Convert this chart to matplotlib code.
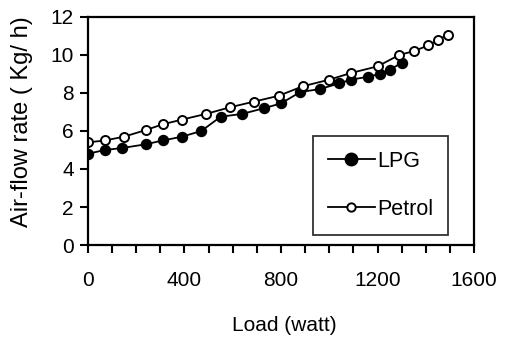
import matplotlib
matplotlib.use("Agg")
import matplotlib.pyplot as plt
from matplotlib.ticker import MultipleLocator

plt.rcParams['font.family'] = ['Liberation Sans', 'DejaVu Sans']

# LPG
lpg_load = [0, 70, 140, 240, 310, 390, 470, 550, 640, 730, 800,
            880, 960, 1040, 1090, 1160, 1210, 1250, 1300]
lpg_air = [4.8, 5.0, 5.1, 5.3, 5.5, 5.7, 6.0, 6.75, 6.9, 7.2, 7.45,
           8.05, 8.2, 8.5, 8.7, 8.85, 9.0, 9.2, 9.6]

# Petrol
petrol_load = [0, 70, 150, 240, 310, 390, 490, 590, 690, 790,
               890, 1000, 1090, 1200, 1290, 1350, 1410, 1450, 1490]
petrol_air = [5.4, 5.5, 5.7, 6.05, 6.35, 6.6, 6.9, 7.25, 7.55, 7.85,
              8.35, 8.7, 9.05, 9.4, 10.0, 10.2, 10.5, 10.8, 11.05]

fig = plt.figure(figsize=(5.05, 3.38), dpi=100)
ax = fig.add_axes([0.174, 0.275, 0.765, 0.675])

ax.plot(lpg_load, lpg_air, '-o', color='black', markerfacecolor='black',
        markersize=7.2, linewidth=1.3, label='LPG')
ax.plot(petrol_load, petrol_air, '-o', color='black', markerfacecolor='white',
        markeredgewidth=1.4, markersize=6.5, linewidth=1.3, label='Petrol')

ax.set_xlim(0, 1600)
ax.set_ylim(0, 12)
ax.xaxis.set_major_locator(MultipleLocator(400))
ax.xaxis.set_minor_locator(MultipleLocator(100))
ax.yaxis.set_major_locator(MultipleLocator(2))
ax.tick_params(which='both', direction='out', width=1.5, length=6, labelsize=15)
ax.tick_params(axis='x', pad=13)
ax.tick_params(axis='y', pad=4)
for s in ax.spines.values():
    s.set_linewidth(1.6)

ax.set_xlabel('Load (watt)', fontsize=15, va='top')
ax.set_ylabel('Air-flow rate ( Kg/ h)', fontsize=17)
ax.xaxis.set_label_coords(0.509, -0.311)
ax.yaxis.set_label_coords(-0.142, 0.54)

leg = ax.legend(loc='lower right', bbox_to_anchor=(0.933, 0.044), fontsize=15.5,
                frameon=True, fancybox=False, edgecolor='black',
                handlelength=2.2, borderpad=0.7, labelspacing=1.25,
                handletextpad=0.1, borderaxespad=0)
leg.get_frame().set_linewidth(1.3)
leg.legend_handles[0].set_markersize(9)
leg.legend_handles[1].set_markersize(6)

fig.savefig('out.png', dpi=100)
